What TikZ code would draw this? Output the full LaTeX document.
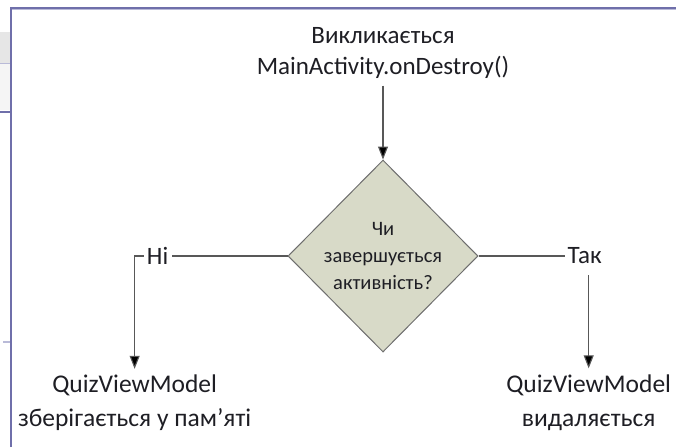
\documentclass[tikz,border=0pt]{standalone}
\usepackage{fontspec}
\setmainfont{Carlito}
\usepackage{tikz}
\usetikzlibrary{arrows.meta,positioning,shapes.geometric}
\definecolor{frameblue}{HTML}{6F6FAA}
\definecolor{framepale}{HTML}{B9BAD8}
\definecolor{stripgray}{HTML}{E6E6E6}
\definecolor{stripwhite}{HTML}{F5F5F5}
\definecolor{sage}{HTML}{D8DAC8}
\definecolor{edgegray}{HTML}{6E6E6E}
\definecolor{ink}{HTML}{1E1E24}
\tikzset{
  textnode/.style={
    font=\fontsize{25}{31}\selectfont, text=ink,
    align=center, inner sep=3pt
  },
  resultnode/.style={
    textnode, font=\fontsize{25.5}{34}\selectfont
  },
  decision/.style={
    diamond, draw=edgegray, fill=sage, line width=1pt,
    minimum width=190pt, minimum height=192pt, inner sep=0pt,
    font=\fontsize{20.5}{27}\selectfont, text=ink, align=center
  },
  flowline/.style={
    draw=edgegray!80!black, line width=1.1pt
  },
  flowarrow/.style={
    flowline, -{Triangle[length=13pt,width=10pt,fill=black]}
  },
}
\begin{document}
\begin{tikzpicture}[x=1pt,y=1pt]
  \useasboundingbox (0,0) rectangle (676,-447);
  % screenshot edge on the left
  \fill[stripgray] (0,-32) rectangle (11,-63);
  \fill[stripwhite] (0,-63) rectangle (11,-110);
  \draw[framepale, line width=1pt] (0,-63) -- (11,-63);
  \draw[frameblue, line width=1.2pt] (0,-112) -- (11,-112);
  \draw[framepale, line width=1.2pt] (3,-342) -- (11,-342);
  \draw[frameblue, line width=1.4pt] (11,-447) -- (11,-8) -- (676,-8);
  \draw[framepale, line width=0.8pt] (12,-9.5) -- (676,-9.5);

  % decision
  \node[decision] (decide) at (383,-256) {Чи\\завершується\\активність?};
  \node[textnode, above=78pt of decide] (start)
    {Викликається\\MainActivity.onDestroy()};
  \draw[flowarrow, shorten <=4pt] (start) -- (decide.north);

  % branches
  \node[textnode, left=116pt of decide] (no) {Ні};
  \node[textnode, right=86pt of decide] (yes) {Так};
  \node[resultnode, below=104pt of no, xshift=-23pt] (keep)
    {QuizViewModel\\зберігається у пам’яті};
  \node[resultnode, below=104pt of yes, xshift=4pt] (drop)
    {QuizViewModel\\видаляється};
  \draw[flowline] (decide.west) -- (no.east);
  \draw[flowarrow, shorten >=3pt] (no.west) -| (keep.north);
  \draw[flowline] (decide.east) -- (yes.west);
  \draw[flowarrow, shorten <=8pt, shorten >=3pt] (yes.south -| drop.north) -- (drop.north);
\end{tikzpicture}
\end{document}
